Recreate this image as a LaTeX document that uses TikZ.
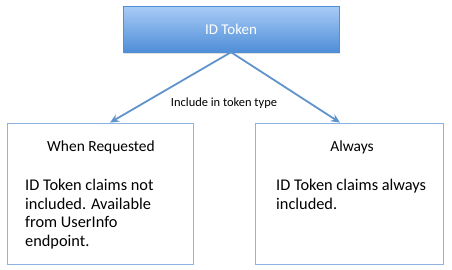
\documentclass[tikz,border=0pt]{standalone}
\usepackage{fontspec}
\setmainfont{Carlito}
\usetikzlibrary{arrows.meta,calc,positioning,shadows}
\definecolor{boxline}{HTML}{8DB3E2}
\definecolor{arrowblue}{HTML}{5F93CB}
\definecolor{toplight}{HTML}{A9CCF6}
\definecolor{topdark}{HTML}{4F8ED8}
\tikzset{
  tokenbox/.style={draw=topdark,rectangle,minimum width=216bp,minimum height=46bp,top color=toplight,bottom color=topdark,text=white,font=\fontsize{15}{18}\selectfont,
    drop shadow={opacity=0.25,shadow xshift=0.6bp,shadow yshift=-1.6bp}},
  typebox/.style={draw=boxline,rectangle,minimum height=141bp,line width=0.8pt},
  boxtitle/.style={font=\fontsize{15.5}{18}\selectfont,inner sep=0pt},
  boxbody/.style={font=\fontsize{16.4}{18.7}\selectfont,align=left,inner sep=0pt,anchor=north west},
  flow/.style={-{Stealth[length=9bp,width=8bp]},draw=arrowblue,line width=1.8pt}
}

\begin{document}
\begin{tikzpicture}[x=1bp,y=-1bp]
  \useasboundingbox (0,0) rectangle (452,269);

  \node[tokenbox] (idtoken) at (231,29) {ID Token};
  \node[typebox,minimum width=186bp] (when) at (100,193.5) {};
  \node[typebox,minimum width=188bp] (always) at (349,193.5) {};

  \node[boxtitle] (whentitle) at (101,147) {When Requested};
  \node[boxbody] (whenbody) at (25,179) {ID Token claims not\\included. Available\\from UserInfo\\endpoint.};
  \node[boxtitle] (alwaystitle) at (352,147) {Always};
  \node[boxbody] (alwaysbody) at (276,179) {ID Token claims always\\included.};

  \node[font=\fontsize{12.5}{14}\selectfont] (include) at (224,103) {Include in token type};

  \draw[flow] (idtoken.south) -- ([xshift=10bp]when.north);
  \draw[flow] (idtoken.south) -- ([xshift=-9bp]always.north);
\end{tikzpicture}
\end{document}
